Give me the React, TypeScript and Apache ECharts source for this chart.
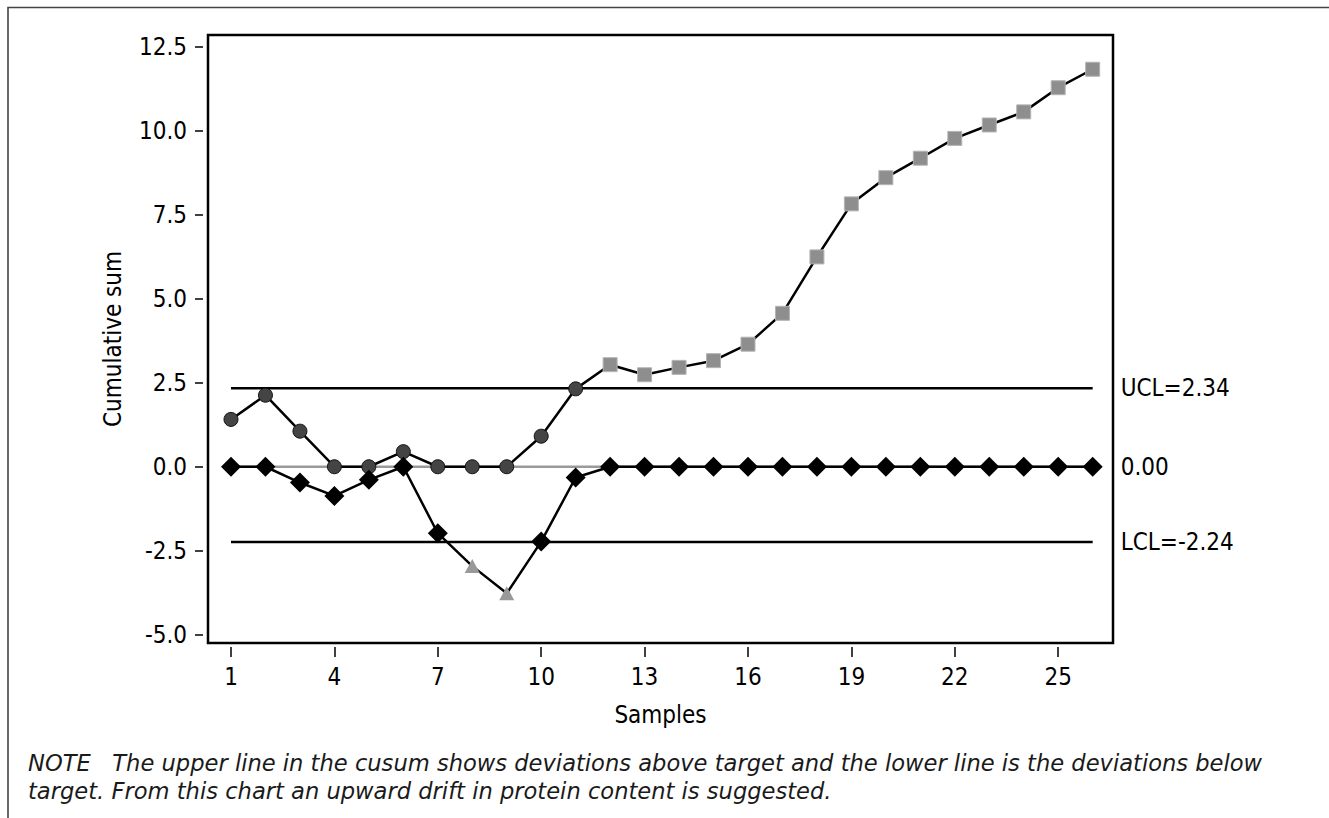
import React, { useEffect, useRef } from "react";
import * as echarts from "echarts";

// Sample numbers along the x axis
const samples = [1, 2, 3, 4, 5, 6, 7, 8, 9, 10, 11, 12, 13, 14, 15, 16, 17, 18, 19, 20, 21, 22, 23, 24, 25, 26];

// Upper cusum (deviations above target)
const upperCusum = [
  1.41, 2.13, 1.06, 0, 0, 0.45, 0, 0, 0, 0.91, 2.32, 3.04, 2.74, 2.96, 3.16, 3.65,
  4.57, 6.25, 7.83, 8.61, 9.19, 9.78, 10.18, 10.57, 11.29, 11.84,
];

// Lower cusum (deviations below target)
const lowerCusum = [
  0, 0, -0.47, -0.87, -0.39, 0, -1.98, -2.96, -3.77, -2.23, -0.32, 0, 0, 0, 0, 0,
  0, 0, 0, 0, 0, 0, 0, 0, 0, 0,
];

// Control limits
const UCL = 2.34;
const CENTER = 0;
const LCL = -2.24;

// Tick positions
const xTicks = [1, 4, 7, 10, 13, 16, 19, 22, 25];
const yTicks = [-5, -2.5, 0, 2.5, 5, 7.5, 10, 12.5];

const AXIS_FONT = "'DejaVu Sans Condensed', 'DejaVu Sans', sans-serif";
const AXIS_SIZE = 24;
const NOTE_FONT = "'DejaVu Sans', 'Noto Sans', sans-serif";

const NOTE_LINES = [
  "NOTE   The upper line in the cusum shows deviations above target and the lower line is the deviations below",
  "target. From this chart an upward drift in protein content is suggested.",
];

export default function App() {
  const ref = useRef<HTMLDivElement>(null);

  useEffect(() => {
    document.body.style.margin = "0";
    if (!ref.current) return;
    const chart = echarts.init(ref.current, null, { renderer: "svg" });

    const upperData = samples.map((s, i) => {
      const v = upperCusum[i];
      const out = v > UCL;
      return {
        value: [s, v],
        symbol: out ? "rect" : "circle",
        symbolSize: 14,
        itemStyle: out
          ? { color: "#8e8e8e", borderColor: "#b4b4b4", borderWidth: 1 }
          : { color: "#444444", borderColor: "#111111", borderWidth: 1 },
      };
    });

    const lowerData = samples.map((s, i) => {
      const v = lowerCusum[i];
      const out = v < LCL;
      return {
        value: [s, v],
        symbol: out ? "triangle" : "diamond",
        symbolSize: out ? [15, 14] : [20, 20],
        itemStyle: out
          ? { color: "#999999", borderWidth: 0 }
          : { color: "#000000", borderWidth: 0 },
      };
    });

    const limitSeries = (name: string, value: number, label: string, color: string) => ({
      name,
      type: "line",
      data: [
        [samples[0], value],
        [samples[samples.length - 1], value],
      ],
      symbol: "none",
      lineStyle: { color, width: 2.5 },
      silent: true,
      z: 1,
      endLabel: {
        show: true,
        formatter: label,
        distance: 28,
        color: "#000",
        fontFamily: AXIS_FONT,
        fontSize: AXIS_SIZE,
      },
    });

    const noteText = (text: string, y: number) => ({
      type: "text",
      silent: true,
      style: {
        text,
        x: 28,
        y,
        verticalAlign: "middle",
        fontFamily: NOTE_FONT,
        fontStyle: "italic",
        fontSize: 22.6,
        fill: "#1a1a1a",
      },
    });

    chart.setOption({
      animation: false,
      backgroundColor: "#ffffff",
      grid: {
        left: 208,
        right: 216,
        top: 35,
        bottom: 175,
        show: true,
        borderColor: "#000",
        borderWidth: 2.5,
        backgroundColor: "transparent",
      },
      xAxis: {
        type: "value",
        min: 0.333,
        max: 26.59,
        offset: 4,
        axisLine: { show: false, onZero: false },
        splitLine: { show: false },
        axisTick: {
          show: true,
          length: 10,
          customValues: xTicks,
          lineStyle: { color: "#000", width: 1.5 },
        },
        axisLabel: {
          customValues: xTicks,
          margin: 18,
          color: "#000",
          fontFamily: AXIS_FONT,
          fontSize: AXIS_SIZE,
        },
        name: "Samples",
        nameLocation: "middle",
        nameGap: 56,
        nameTextStyle: { color: "#000", fontFamily: AXIS_FONT, fontSize: AXIS_SIZE },
      },
      yAxis: {
        type: "value",
        min: -5.25,
        max: 12.86,
        offset: 5,
        axisLine: { show: false, onZero: false },
        splitLine: { show: false },
        axisTick: {
          show: true,
          length: 8,
          customValues: yTicks,
          lineStyle: { color: "#000", width: 1.5 },
        },
        axisLabel: {
          customValues: yTicks,
          margin: 16,
          color: "#000",
          fontFamily: AXIS_FONT,
          fontSize: AXIS_SIZE,
          formatter: (v: number) => v.toFixed(1),
        },
        name: "Cumulative sum",
        nameLocation: "middle",
        nameGap: 78,
        nameTextStyle: { color: "#000", fontFamily: AXIS_FONT, fontSize: AXIS_SIZE },
      },
      series: [
        limitSeries("Center", CENTER, "0.00", "#9a9a9a"),
        limitSeries("UCL", UCL, "UCL=2.34", "#000000"),
        limitSeries("LCL", LCL, "LCL=-2.24", "#000000"),
        {
          name: "Upper cusum",
          type: "line",
          data: upperData,
          lineStyle: { color: "#000", width: 2.5 },
          z: 3,
        },
        {
          name: "Lower cusum",
          type: "line",
          data: lowerData,
          lineStyle: { color: "#000", width: 2.5 },
          z: 4,
        },
      ],
      graphic: [
        {
          type: "polyline",
          shape: {
            points: [
              [8, 830],
              [8, 7.5],
              [1340, 7.5],
            ],
          },
          style: { stroke: "#444", lineWidth: 1.6, fill: "none" },
          silent: true,
        },
        noteText(NOTE_LINES[0], 763),
        noteText(NOTE_LINES[1], 791),
      ],
    });

    return () => chart.dispose();
  }, []);

  return <div ref={ref} style={{ width: 1329, height: 818 }} />;
}
